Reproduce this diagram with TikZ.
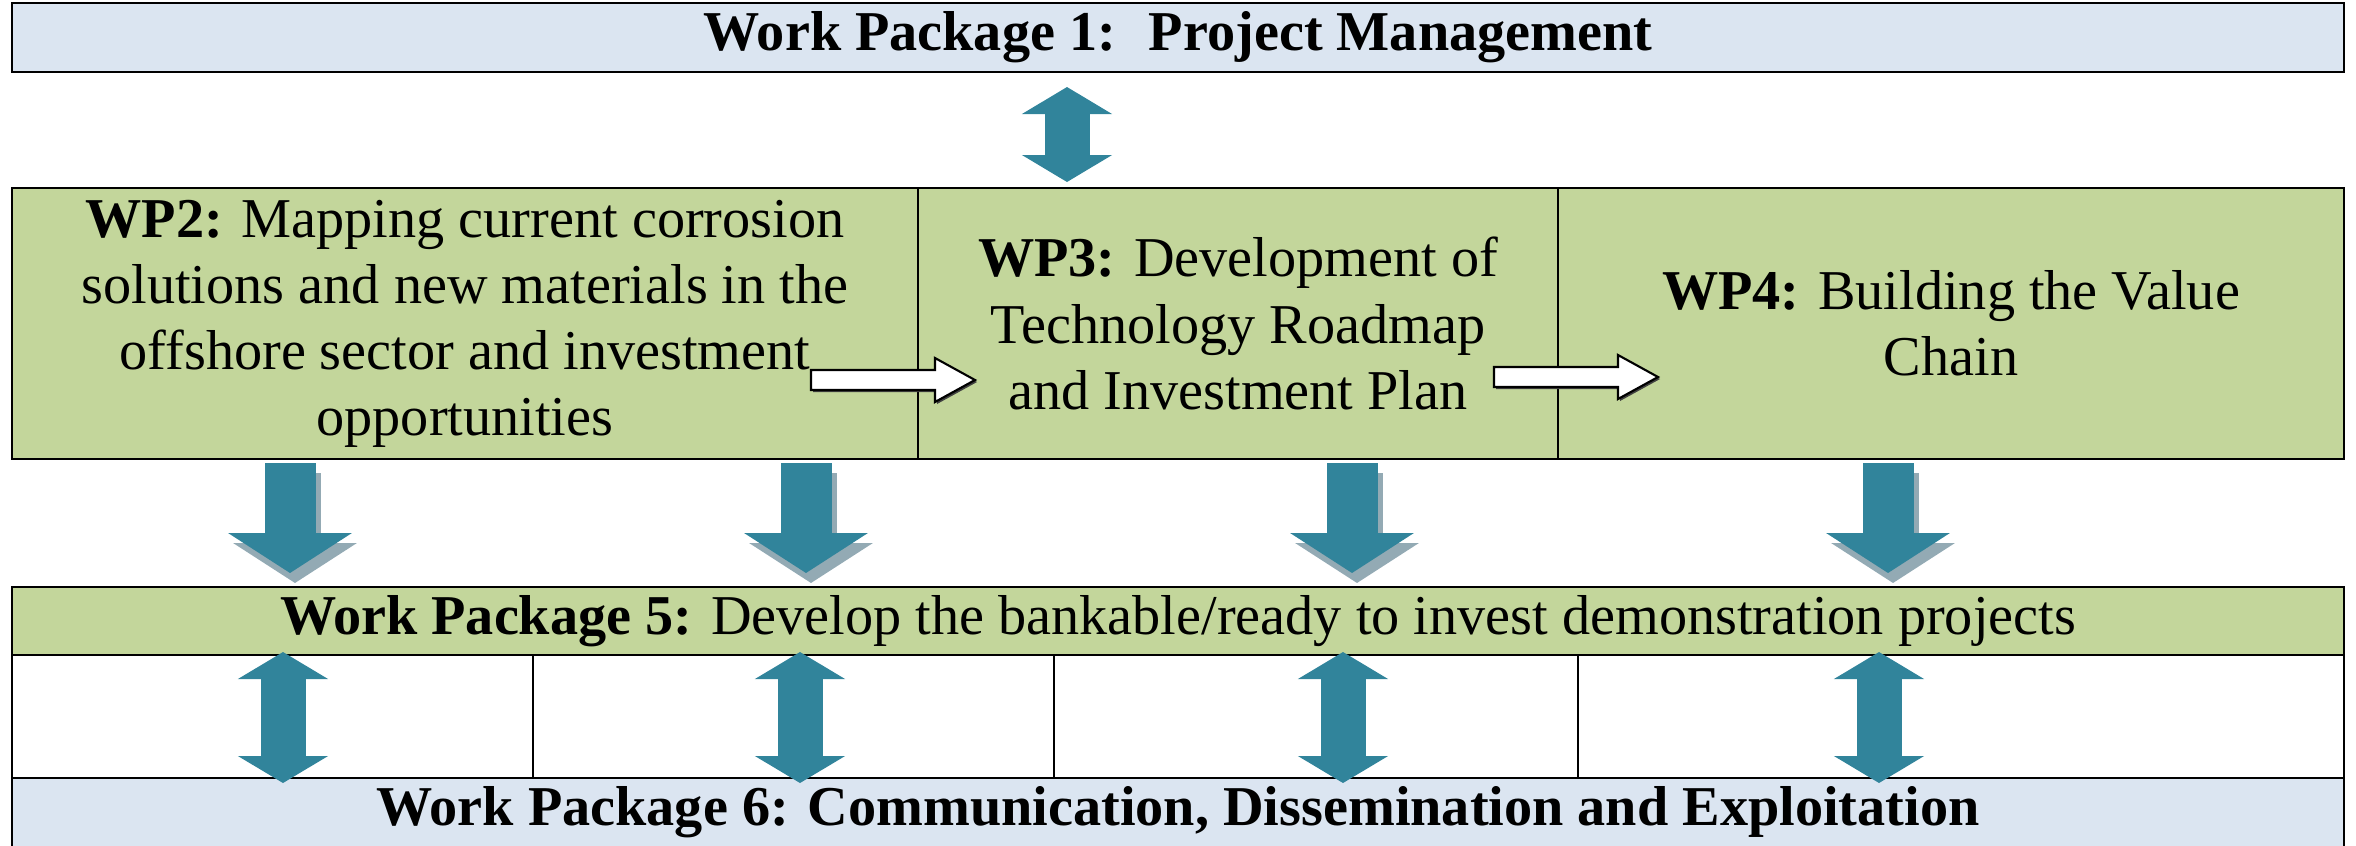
\documentclass[tikz,border=0pt]{standalone}
\usepackage{fontspec}
\setmainfont{Liberation Serif}
\usetikzlibrary{positioning, arrows.meta}

\definecolor{wpblue}{HTML}{DBE5F1}
\definecolor{wpgreen}{HTML}{C3D69B}
\definecolor{wpteal}{HTML}{31849B}
\definecolor{wpshadow}{HTML}{93AAB4}

\begin{document}
\begin{tikzpicture}[every node/.style={draw, rectangle, align=center, inner sep=0pt, outer sep=0pt, line width=0.6pt, font=\fontsize{16}{18.8}\selectfont},
                    band/.style={fill=wpblue, minimum width=23.32cm, minimum height=0.69cm},
                    cell/.style={fill=wpgreen, minimum height=2.71cm},
                    blank/.style={fill=white, minimum height=1.23cm},
                    twoway/.style={wpteal, line width=0.45cm, {Triangle[width=0.89cm, length=0.27cm]}-{Triangle[width=0.89cm, length=0.27cm]}},
                    oneway/.style={line width=0.51cm, -{Triangle[width=1.22cm, length=0.40cm]}, shorten <=0.04cm, shorten >=0.14cm},
                    blockarrow/.pic={
                        \fill[black!75] (0.02,-0.12) -- (1.26,-0.12) -- (1.26,-0.24) -- (1.66,-0.02) -- (1.26,0.2) -- (1.26,0.08) -- (0.02,0.08) -- cycle;
                        \draw[fill=white, line width=0.6pt] (0,-0.1) -- (1.24,-0.1) -- (1.24,-0.22) -- (1.64,0) -- (1.24,0.22) -- (1.24,0.1) -- (0,0.1) -- cycle;
                    }] % one row of boxes per work package
    \useasboundingbox (0,0) rectangle (23.56,-8.45);
    % Top band
    \node[band, anchor=north west] (wp1) at (0.12,-0.03) {\textbf{Work Package 1:~ Project Management}};
    % Middle row
    \node[cell, minimum width=9.06cm, below=1.16cm of wp1.south west, anchor=north west] (wp2)
        {\textbf{WP2:} Mapping current corrosion\\ solutions and new materials in the\\ offshore sector and investment\\ opportunities};
    \node[cell, minimum width=6.40cm, right=0pt of wp2] (wp3) {\textbf{WP3:} Development of\\ Technology Roadmap\\ and Investment Plan};
    \node[cell, minimum width=7.86cm, right=0pt of wp3] (wp4) {\textbf{WP4:} Building the Value\\ Chain};
    % Demonstration band
    \node[band, fill=wpgreen, minimum height=0.68cm, below=1.28cm of wp2.south west, anchor=north west] (wp5)
        {\textbf{Work Package 5:} Develop the bankable/ready to invest demonstration projects};
    \node[blank, minimum width=5.21cm, anchor=north west] (c1) at (wp5.south west) {};
    \node[blank, minimum width=5.21cm, right=0pt of c1] (c2) {};
    \node[blank, minimum width=5.24cm, right=0pt of c2] (c3) {};
    \node[blank, minimum width=7.66cm, right=0pt of c3] (c4) {};
    % Bottom band
    \node[band, minimum height=0.69cm, anchor=north west] (wp6) at (c1.south west)
        {\textbf{Work Package 6: Communication, Dissemination and Exploitation}};

    \coordinate (top) at (10.67,0);
    \draw[twoway, shorten <=0.15cm, shorten >=0.06cm] (top |- wp1.south) -- (top |- wp2.north);

    \pic at (8.11,-3.80) {blockarrow};
    \pic at (14.94,-3.77) {blockarrow};

    \foreach \x [count=\i] in {2.90, 8.06, 13.52, 18.88} {
        \coordinate (d\i) at (\x,0);
        \draw[oneway, wpshadow, transform canvas={shift={(0.05,-0.1)}}] (d\i |- wp2.south) -- (d\i |- wp5.north);
        \draw[oneway, wpteal] (d\i |- wp2.south) -- (d\i |- wp5.north);
    }
    \foreach \x [count=\i] in {2.83, 8.00, 13.43, 18.79} {
        \coordinate (e\i) at (\x,0);
        \draw[twoway, shorten <=-0.03cm, shorten >=-0.05cm] (e\i |- wp5.south) -- (e\i |- wp6.north);
    }
\end{tikzpicture}
\end{document}
